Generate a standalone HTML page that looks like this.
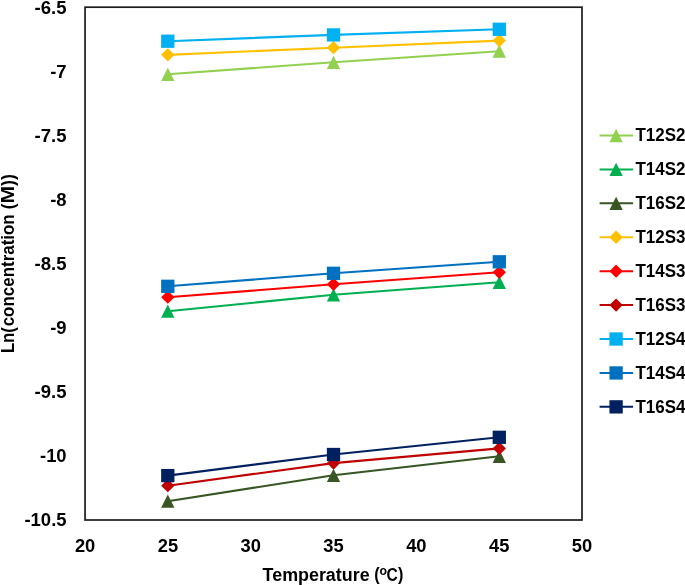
<!DOCTYPE html>
<html lang="en">
<head>
<meta charset="utf-8">
<title>Ln(concentration) vs Temperature</title>
<style>
html,body{margin:0;padding:0;background:#fff;}
body{width:685px;height:585px;overflow:hidden;}
svg{display:block;}
text{font-family:"Liberation Sans",Arial,Helvetica,sans-serif;font-weight:bold;font-size:17.6px;fill:#000;}
</style>
</head>
<body>
<svg width="685" height="585" viewBox="0 0 685 585">
<rect x="0" y="0" width="685" height="585" fill="#ffffff"/>

<rect x="85.05" y="7.2" width="496.95" height="512.8" fill="none" stroke="#1c1c1c" stroke-width="1.7"/>
<g><polyline points="167.80,74.30 333.50,62.30 499.30,51.20" fill="none" stroke="#92D050" stroke-width="2.1" stroke-linejoin="round"/>
<polygon points="167.80,67.65 174.45,80.95 161.15,80.95" fill="#92D050"/>
<polygon points="333.50,55.65 340.15,68.95 326.85,68.95" fill="#92D050"/>
<polygon points="499.30,44.55 505.95,57.85 492.65,57.85" fill="#92D050"/>
</g>
<g><polyline points="167.80,311.20 333.50,294.80 499.30,282.30" fill="none" stroke="#00B050" stroke-width="2.1" stroke-linejoin="round"/>
<polygon points="167.80,304.55 174.45,317.85 161.15,317.85" fill="#00B050"/>
<polygon points="333.50,288.15 340.15,301.45 326.85,301.45" fill="#00B050"/>
<polygon points="499.30,275.65 505.95,288.95 492.65,288.95" fill="#00B050"/>
</g>
<g><polyline points="167.80,501.20 333.50,475.30 499.30,456.30" fill="none" stroke="#375623" stroke-width="2.1" stroke-linejoin="round"/>
<polygon points="167.80,494.55 174.45,507.85 161.15,507.85" fill="#375623"/>
<polygon points="333.50,468.65 340.15,481.95 326.85,481.95" fill="#375623"/>
<polygon points="499.30,449.65 505.95,462.95 492.65,462.95" fill="#375623"/>
</g>
<g><polyline points="167.80,54.85 333.50,47.70 499.30,40.60" fill="none" stroke="#FFC000" stroke-width="2.1" stroke-linejoin="round"/>
<polygon points="167.80,48.20 174.45,54.85 167.80,61.50 161.15,54.85" fill="#FFC000"/>
<polygon points="333.50,41.05 340.15,47.70 333.50,54.35 326.85,47.70" fill="#FFC000"/>
<polygon points="499.30,33.95 505.95,40.60 499.30,47.25 492.65,40.60" fill="#FFC000"/>
</g>
<g><polyline points="167.80,297.20 333.50,284.30 499.30,272.30" fill="none" stroke="#FF0000" stroke-width="2.1" stroke-linejoin="round"/>
<polygon points="167.80,290.55 174.45,297.20 167.80,303.85 161.15,297.20" fill="#FF0000"/>
<polygon points="333.50,277.65 340.15,284.30 333.50,290.95 326.85,284.30" fill="#FF0000"/>
<polygon points="499.30,265.65 505.95,272.30 499.30,278.95 492.65,272.30" fill="#FF0000"/>
</g>
<g><polyline points="167.80,485.70 333.50,463.10 499.30,448.40" fill="none" stroke="#C00000" stroke-width="2.1" stroke-linejoin="round"/>
<polygon points="167.80,479.05 174.45,485.70 167.80,492.35 161.15,485.70" fill="#C00000"/>
<polygon points="333.50,456.45 340.15,463.10 333.50,469.75 326.85,463.10" fill="#C00000"/>
<polygon points="499.30,441.75 505.95,448.40 499.30,455.05 492.65,448.40" fill="#C00000"/>
</g>
<g><polyline points="167.80,41.20 333.50,34.90 499.30,29.30" fill="none" stroke="#00B0F0" stroke-width="2.1" stroke-linejoin="round"/>
<rect x="161.15" y="34.55" width="13.3" height="13.3" fill="#00B0F0"/>
<rect x="326.85" y="28.25" width="13.3" height="13.3" fill="#00B0F0"/>
<rect x="492.65" y="22.65" width="13.3" height="13.3" fill="#00B0F0"/>
</g>
<g><polyline points="167.80,286.30 333.50,273.30 499.30,261.80" fill="none" stroke="#0070C0" stroke-width="2.1" stroke-linejoin="round"/>
<rect x="161.15" y="279.65" width="13.3" height="13.3" fill="#0070C0"/>
<rect x="326.85" y="266.65" width="13.3" height="13.3" fill="#0070C0"/>
<rect x="492.65" y="255.15" width="13.3" height="13.3" fill="#0070C0"/>
</g>
<g><polyline points="167.80,475.60 333.50,454.50 499.30,437.30" fill="none" stroke="#002060" stroke-width="2.1" stroke-linejoin="round"/>
<rect x="161.15" y="468.95" width="13.3" height="13.3" fill="#002060"/>
<rect x="326.85" y="447.85" width="13.3" height="13.3" fill="#002060"/>
<rect x="492.65" y="430.65" width="13.3" height="13.3" fill="#002060"/>
</g>
<text x="66.6" y="13.55" text-anchor="end" textLength="32.0" lengthAdjust="spacingAndGlyphs">-6.5</text>
<text x="66.6" y="77.64" text-anchor="end" textLength="16.4" lengthAdjust="spacingAndGlyphs">-7</text>
<text x="66.6" y="141.73" text-anchor="end" textLength="32.0" lengthAdjust="spacingAndGlyphs">-7.5</text>
<text x="66.6" y="205.81" text-anchor="end" textLength="16.4" lengthAdjust="spacingAndGlyphs">-8</text>
<text x="66.6" y="269.90" text-anchor="end" textLength="32.0" lengthAdjust="spacingAndGlyphs">-8.5</text>
<text x="66.6" y="333.99" text-anchor="end" textLength="16.4" lengthAdjust="spacingAndGlyphs">-9</text>
<text x="66.6" y="398.08" text-anchor="end" textLength="32.0" lengthAdjust="spacingAndGlyphs">-9.5</text>
<text x="66.6" y="462.16" text-anchor="end" textLength="26.6" lengthAdjust="spacingAndGlyphs">-10</text>
<text x="66.6" y="526.25" text-anchor="end" textLength="42.2" lengthAdjust="spacingAndGlyphs">-10.5</text>
<text x="85.10" y="551.7" text-anchor="middle" textLength="20.4" lengthAdjust="spacingAndGlyphs">20</text>
<text x="167.92" y="551.7" text-anchor="middle" textLength="20.4" lengthAdjust="spacingAndGlyphs">25</text>
<text x="250.73" y="551.7" text-anchor="middle" textLength="20.4" lengthAdjust="spacingAndGlyphs">30</text>
<text x="333.55" y="551.7" text-anchor="middle" textLength="20.4" lengthAdjust="spacingAndGlyphs">35</text>
<text x="416.37" y="551.7" text-anchor="middle" textLength="20.4" lengthAdjust="spacingAndGlyphs">40</text>
<text x="499.18" y="551.7" text-anchor="middle" textLength="20.4" lengthAdjust="spacingAndGlyphs">45</text>
<text x="582.00" y="551.7" text-anchor="middle" textLength="20.4" lengthAdjust="spacingAndGlyphs">50</text>
<text y="581"><tspan x="262.6" textLength="107.0" lengthAdjust="spacingAndGlyphs">Temperature</tspan> <tspan x="374.3" dy="-0.8" textLength="5.4" lengthAdjust="spacingAndGlyphs">(</tspan><tspan x="379.5" font-size="12.3px" dy="-5.3">o</tspan><tspan x="386.5" dy="6.1" textLength="11.3" lengthAdjust="spacingAndGlyphs">C</tspan><tspan x="398.0" dy="-0.8" textLength="5.4" lengthAdjust="spacingAndGlyphs">)</tspan></text>
<text transform="translate(13.9,352.3) rotate(-90)" y="0"><tspan x="-0.8" textLength="26.0" lengthAdjust="spacingAndGlyphs">Ln(</tspan><tspan x="26.0" textLength="112.0" lengthAdjust="spacingAndGlyphs">concentration</tspan> <tspan x="143.0">(</tspan><tspan x="148.9" textLength="17.6" lengthAdjust="spacingAndGlyphs">M</tspan><tspan x="166.3" textLength="12.0" lengthAdjust="spacingAndGlyphs">))</tspan></text>
<g><line x1="599.6" y1="135.50" x2="633.1" y2="135.50" stroke="#92D050" stroke-width="2"/>
<polygon points="616.10,128.85 622.75,142.15 609.45,142.15" fill="#92D050"/>
<text x="635.4" y="141.20" textLength="50.0" lengthAdjust="spacingAndGlyphs">T12S2</text></g>
<g><line x1="599.6" y1="169.42" x2="633.1" y2="169.42" stroke="#00B050" stroke-width="2"/>
<polygon points="616.10,162.77 622.75,176.07 609.45,176.07" fill="#00B050"/>
<text x="635.4" y="175.12" textLength="50.0" lengthAdjust="spacingAndGlyphs">T14S2</text></g>
<g><line x1="599.6" y1="203.34" x2="633.1" y2="203.34" stroke="#375623" stroke-width="2"/>
<polygon points="616.10,196.69 622.75,209.99 609.45,209.99" fill="#375623"/>
<text x="635.4" y="209.04" textLength="50.0" lengthAdjust="spacingAndGlyphs">T16S2</text></g>
<g><line x1="599.6" y1="237.26" x2="633.1" y2="237.26" stroke="#FFC000" stroke-width="2"/>
<polygon points="616.10,230.61 622.75,237.26 616.10,243.91 609.45,237.26" fill="#FFC000"/>
<text x="635.4" y="242.96" textLength="50.0" lengthAdjust="spacingAndGlyphs">T12S3</text></g>
<g><line x1="599.6" y1="271.18" x2="633.1" y2="271.18" stroke="#FF0000" stroke-width="2"/>
<polygon points="616.10,264.53 622.75,271.18 616.10,277.83 609.45,271.18" fill="#FF0000"/>
<text x="635.4" y="276.88" textLength="50.0" lengthAdjust="spacingAndGlyphs">T14S3</text></g>
<g><line x1="599.6" y1="305.10" x2="633.1" y2="305.10" stroke="#C00000" stroke-width="2"/>
<polygon points="616.10,298.45 622.75,305.10 616.10,311.75 609.45,305.10" fill="#C00000"/>
<text x="635.4" y="310.80" textLength="50.0" lengthAdjust="spacingAndGlyphs">T16S3</text></g>
<g><line x1="599.6" y1="339.02" x2="633.1" y2="339.02" stroke="#00B0F0" stroke-width="2"/>
<rect x="609.45" y="332.37" width="13.3" height="13.3" fill="#00B0F0"/>
<text x="635.4" y="344.72" textLength="50.0" lengthAdjust="spacingAndGlyphs">T12S4</text></g>
<g><line x1="599.6" y1="372.94" x2="633.1" y2="372.94" stroke="#0070C0" stroke-width="2"/>
<rect x="609.45" y="366.29" width="13.3" height="13.3" fill="#0070C0"/>
<text x="635.4" y="378.64" textLength="50.0" lengthAdjust="spacingAndGlyphs">T14S4</text></g>
<g><line x1="599.6" y1="406.86" x2="633.1" y2="406.86" stroke="#002060" stroke-width="2"/>
<rect x="609.45" y="400.21" width="13.3" height="13.3" fill="#002060"/>
<text x="635.4" y="412.56" textLength="50.0" lengthAdjust="spacingAndGlyphs">T16S4</text></g>
</svg>
</body>
</html>
